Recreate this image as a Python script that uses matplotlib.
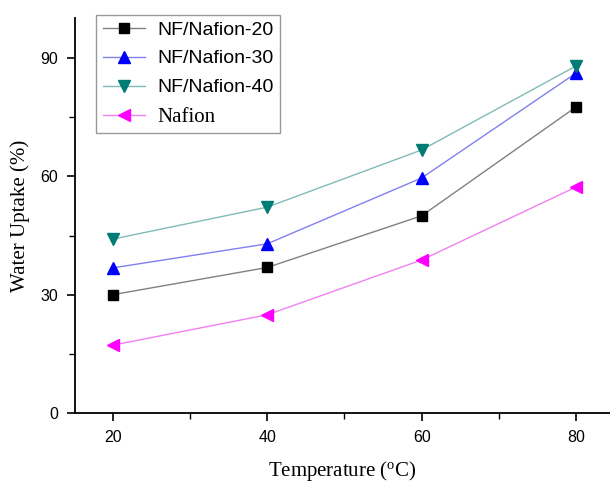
import matplotlib.pyplot as plt
from matplotlib.ticker import MultipleLocator

temps = [20, 40, 60, 80]
nf20 = [30.0, 36.9, 50.0, 77.6]
nf30 = [36.8, 42.9, 59.6, 86.2]
nf40 = [44.1, 52.2, 66.7, 88.0]
nafion = [17.2, 24.9, 38.8, 57.3]

labels = ['NF/Nafion-20', 'NF/Nafion-30', 'NF/Nafion-40', 'Nafion']
marker_colors = ['black', 'blue', '#007b76', 'magenta']
line_colors = ['#808080', '#8080f0', '#7fbcb8', '#f080f0']
markers = ['s', '^', 'v', '<']
msizes = [6.5, 8, 8, 8]

fig = plt.figure(figsize=(6.1, 4.83), dpi=100)
ax = fig.add_axes([0.123, 0.145, 0.877, 0.818])

for ys, lab, mc, lc, m, ms in zip([nf20, nf30, nf40, nafion], labels, marker_colors, line_colors, markers, msizes):
    ax.plot(temps, ys, color=lc, lw=1.0, marker=m, markersize=ms,
            markerfacecolor=mc, markeredgecolor=mc, label=lab)

ax.set_xlim(15.1, 84.4)
ax.set_ylim(0, 100.2)
ax.xaxis.set_major_locator(MultipleLocator(20))
ax.xaxis.set_minor_locator(MultipleLocator(10))
ax.yaxis.set_major_locator(MultipleLocator(30))
ax.yaxis.set_minor_locator(MultipleLocator(15))
ax.spines['top'].set_visible(False)
ax.spines['right'].set_visible(False)
for s in ['left', 'bottom']:
    ax.spines[s].set_linewidth(1.3)
ax.tick_params(which='major', direction='out', length=6, width=1.2, labelsize=11.5, pad=6)
ax.tick_params(which='minor', direction='out', length=4, width=1.0)
for t in ax.get_xticklabels() + ax.get_yticklabels():
    t.set_fontfamily('Liberation Sans')

ax.set_xlabel('Temperature ($\\mathregular{^{o}}$C)',
              fontfamily='Liberation Serif', fontsize=15, labelpad=10)
ax.set_ylabel('Water Uptake (%)', fontfamily='Liberation Serif', fontsize=15, labelpad=8)

leg = ax.legend(loc='upper left', bbox_to_anchor=(0.04, 1.008), frameon=True, fancybox=False,
                edgecolor='#808080', fontsize=14, handlelength=2.2, handletextpad=0.6,
                labelspacing=0.58, borderpad=0.32, borderaxespad=0.0)
leg.get_frame().set_linewidth(1.0)
for t in leg.get_texts():
    if t.get_text() == 'Nafion':
        t.set_fontfamily('Liberation Serif')
        t.set_fontsize(15)
    else:
        t.set_fontfamily('Liberation Sans')

fig.savefig('out.png', dpi=100)
